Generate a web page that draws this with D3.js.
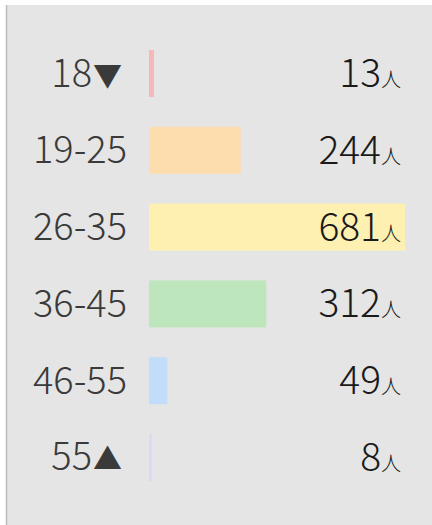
<!DOCTYPE html>
<html>
<head>
<meta charset="utf-8">
<script src="https://cdn.jsdelivr.net/npm/d3@7"></script>
<style>
    html, body { margin: 0; padding: 0; background: #ffffff; }
    svg { display: block; }
</style>
</head>
<body>
<div id="chart"></div>
<script>
const ageGroups = ["18▼", "19-25", "26-35", "36-45", "46-55", "55▲"];
const counts = [13, 244, 681, 312, 49, 8];
const barColors = ["#f8b6b8", "#fddcae", "#fdf0b1", "#bde6bd", "#c2ddf9", "#e2d6f6"];
const unitLabel = "人";

const width = 432, height = 525;

const svg = d3.select("#chart").append("svg")
    .attr("width", width)
    .attr("height", height);

// card background with left border
svg.append("rect")
    .attr("x", 6).attr("y", 5)
    .attr("width", width - 6).attr("height", height - 5)
    .attr("fill", "#e5e5e5");
svg.append("line")
    .attr("x1", 6.5).attr("x2", 6.5)
    .attr("y1", 5).attr("y2", height)
    .attr("stroke", "#bdbdbd")
    .attr("stroke-width", 1.5);

const y = d3.scaleBand()
    .domain(ageGroups)
    .range([50, 481])
    .paddingInner(0.388)
    .paddingOuter(0);

const x = d3.scaleLinear()
    .domain([0, d3.max(counts)])
    .range([149, 405]);

const rows = svg.selectAll(".row")
    .data(ageGroups.map((g, i) => ({group: g, count: counts[i], color: barColors[i]})))
    .join("g")
    .attr("class", "row");

rows.append("rect")
    .attr("x", x(0))
    .attr("y", d => y(d.group))
    .attr("width", d => x(d.count) - x(0))
    .attr("height", y.bandwidth())
    .attr("fill", d => d.color);

const fontStack = "'Noto Sans CJK JP', 'Noto Sans', sans-serif";
const triangle = /[▼▲]/;

// age label, triangle drawn a bit smaller than the digits
const labels = rows.append("text")
    .attr("x", d => triangle.test(d.group) ? 122 : 127)
    .attr("y", d => y(d.group) + y.bandwidth() / 2 + 13)
    .attr("text-anchor", "end")
    .attr("font-family", fontStack)
    .attr("font-weight", 300)
    .attr("font-size", 38)
    .attr("fill", "#3a3a3a");
labels.append("tspan")
    .text(d => d.group.replace(triangle, ""));
labels.append("tspan")
    .attr("font-size", 29)
    .attr("dx", 1)
    .text(d => (d.group.match(triangle) || [""])[0]);

const values = rows.append("text")
    .attr("x", 401)
    .attr("y", d => y(d.group) + y.bandwidth() / 2 + 13.5)
    .attr("text-anchor", "end")
    .attr("font-family", fontStack)
    .attr("font-weight", 300)
    .attr("fill", "#1a1a1a");
values.append("tspan")
    .attr("font-size", 39)
    .text(d => d.count);
values.append("tspan")
    .attr("font-size", 20)
    .text(unitLabel);
</script>
</body>
</html>
